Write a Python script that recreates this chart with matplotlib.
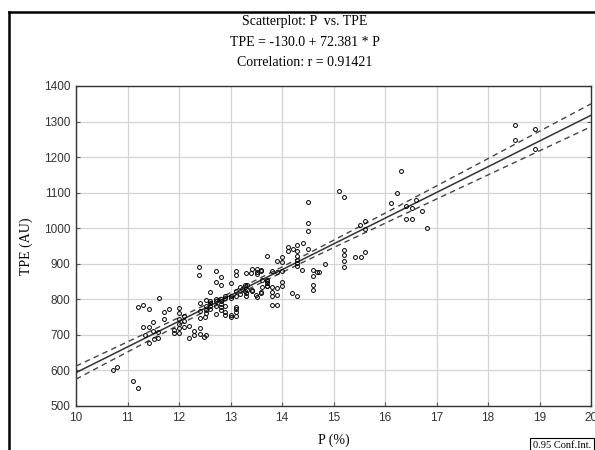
import matplotlib
matplotlib.use("Agg")
import matplotlib.pyplot as plt
from matplotlib.lines import Line2D
import numpy as np

# Values (P in %, TPE in AU)
p_values = [
    10.72, 10.80, 11.11, 11.20,
    11.20, 11.31, 11.41, 11.61, 11.71, 11.81, 11.71, 11.50, 11.31, 11.41,
    11.34, 11.50, 11.41, 11.52, 11.60, 11.60, 11.90, 11.90,
    12.00, 12.00, 12.00, 12.00, 12.00, 12.00, 12.10, 12.10, 12.10, 12.19,
    12.20, 12.30, 12.30, 12.41, 12.41, 12.52, 12.49,
    12.39, 12.39, 12.71, 12.81, 12.71, 12.81, 12.61, 13.10, 13.10, 13.00,
    12.41, 12.41, 12.41, 12.52, 12.52, 12.52, 12.52, 12.61, 12.61, 12.71,
    12.81, 12.81, 12.90, 12.90, 13.00, 13.10, 13.10, 13.00, 13.10, 13.19,
    13.29, 13.29,
    12.61, 12.61, 12.71, 12.71, 12.81, 12.81, 12.90, 12.90, 13.00, 13.10,
    13.10, 12.51,
    13.22, 13.30, 13.32, 13.32, 13.41, 13.51, 13.51, 13.59, 13.61, 13.61,
    13.71, 13.71, 13.71, 13.71, 13.80, 13.91, 13.80, 13.80, 13.50, 13.59,
    13.41, 13.80, 13.91, 13.80, 13.91, 13.91, 13.91, 14.00, 14.00, 14.00,
    14.00, 14.00,
    13.41, 13.31, 13.19, 13.10, 13.01, 12.90, 12.81, 12.71, 13.60, 13.51,
    13.39, 13.31, 13.51, 13.60, 13.71, 13.70,
    14.12, 14.12, 14.22, 14.29, 14.29, 14.29, 14.29, 14.29, 14.29, 14.41,
    14.39, 14.50, 14.50, 14.50, 14.51, 14.61, 14.68, 14.60, 14.60, 14.60,
    14.20, 14.30, 14.83, 14.71,
    15.11, 15.21, 15.21, 15.21, 15.21, 15.21, 15.42, 15.53, 15.62, 15.51,
    15.62, 15.62,
    16.23, 16.32, 16.12, 16.41, 16.52, 16.61, 16.72, 16.41, 16.52, 16.81,
    18.52, 18.52, 18.91, 18.91,
]
tpe_values = [
    601, 611, 569, 550,
    779, 783, 774, 803, 765, 774, 744, 737, 722, 722,
    700, 711, 678, 688, 690, 708, 704, 715,
    777, 762, 746, 732, 718, 706, 753, 740, 721, 725,
    690, 710, 700, 703, 719, 701, 693,
    891, 869, 880, 863, 849, 840, 821, 880, 869, 846,
    747, 766, 790, 782, 770, 761, 798, 780, 796, 796,
    795, 778, 810, 765, 757, 778, 763, 810, 823, 835,
    841, 823,
    791, 773, 782, 759, 787, 770, 782, 756, 749, 773,
    754, 751,
    830, 818, 840, 827, 885, 877, 885, 880, 855, 835,
    855, 845, 838, 922, 880, 877, 834, 822, 813, 822,
    827, 808, 813, 785, 785, 831, 908, 920, 904, 880,
    850, 838,
    824, 810, 815, 810, 805, 804, 801, 801, 817, 807,
    873, 873, 871, 882, 852, 838,
    947, 935, 941, 954, 937, 923, 912, 903, 894, 958,
    883, 1075, 1016, 993, 941, 883, 878, 866, 840, 826,
    817, 808, 899, 876,
    1105, 1089, 939, 925, 907, 891, 920, 918, 932, 1008,
    1019, 997,
    1100, 1160, 1071, 1063, 1056, 1079, 1049, 1025, 1027, 1000,
    1289, 1248, 1278, 1224,
]

intercept = -130.0
slope = 72.381
title_lines = ["Scatterplot: P  vs. TPE",
               "TPE = -130.0 + 72.381 * P",
               "Correlation: r = 0.91421"]
x_ticks = list(range(10, 21))
y_ticks = list(range(500, 1401, 100))

W, H = 595, 450
fig = plt.figure(figsize=(W / 100, H / 100), dpi=100)
ax = fig.add_axes([76 / W, 1 - 406 / H, (591 - 76) / W, (406 - 86) / H])

x = np.array(p_values)
y = np.array(tpe_values)

# regression line and 0.95 confidence band for the mean
xs = np.linspace(10, 20, 200)
fit = intercept + slope * xs
n = len(x)
resid = y - (intercept + slope * x)
s = np.sqrt(np.sum(resid ** 2) / (n - 2))
sxx = np.sum((x - x.mean()) ** 2)
half = 1.972 * s * np.sqrt(1 / n + (xs - x.mean()) ** 2 / sxx)

ax.plot(xs, fit, color="#333333", lw=1.1, zorder=3)
ax.plot(xs, fit + half, color="#444444", lw=1.0, ls=(0, (4, 3)), zorder=3)
ax.plot(xs, fit - half, color="#444444", lw=1.0, ls=(0, (4, 3)), zorder=3)

ax.plot(x, y, ls="none", marker="o", ms=2.8, mfc="none", mec="black",
        mew=0.7, zorder=4)

ax.set_xlim(10, 20)
ax.set_ylim(500, 1400)
ax.set_xticks(x_ticks)
ax.set_yticks(y_ticks)
ax.grid(True, color="#d4d4d4", lw=0.9)
ax.set_axisbelow(True)
for sp in ax.spines.values():
    sp.set_color("#333333")
    sp.set_linewidth(1.0)
ax.tick_params(direction="in", length=3, color="#555555", labelsize=8.5,
               pad=4, right=True, top=False)
for lab in ax.get_xticklabels() + ax.get_yticklabels():
    lab.set_fontfamily("Liberation Sans")
    lab.set_color("#333333")

serif = "Liberation Serif"
ax.set_xlabel("P (%)", family=serif, fontsize=10, labelpad=7)
ax.set_ylabel("TPE (AU)", family=serif, fontsize=10, labelpad=8)

for i, line in enumerate(title_lines):
    fig.text(305 / W, 1 - (22 + 20 * i) / H, line, family=serif,
             fontsize=10, ha="center", va="center")

# outer frame of the original window (right/bottom edges are cut off)
fig.add_artist(Line2D([9 / W, 9 / W], [0, 1 - 12 / H], color="black",
                      lw=1.8, transform=fig.transFigure))
fig.add_artist(Line2D([9 / W, 1], [1 - 12 / H, 1 - 12 / H], color="black",
                      lw=1.8, transform=fig.transFigure))

# legend box, mostly outside the picture
fig.text(533 / W, 1 - 445 / H, "0.95 Conf.Int.", family=serif, fontsize=7.5,
         ha="left", va="center",
         bbox=dict(boxstyle="square,pad=0.25", fc="white", ec="black", lw=0.8))

fig.savefig("out.png", dpi=100)
